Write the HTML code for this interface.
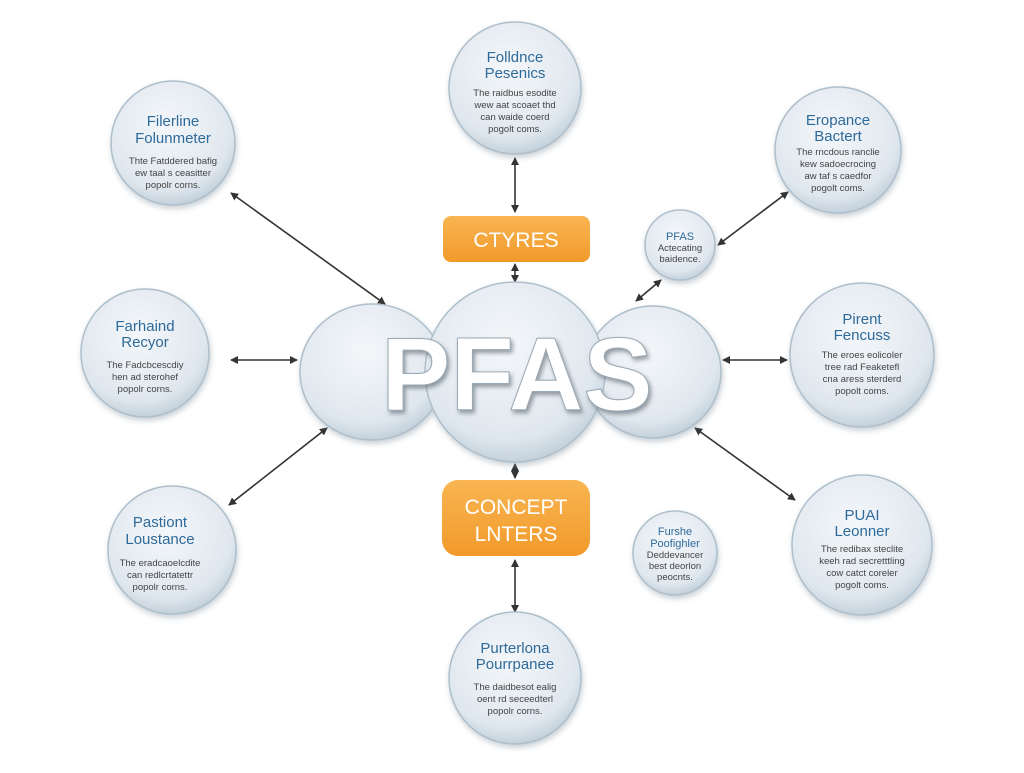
<!DOCTYPE html>
<html><head><meta charset="utf-8"><style>
body{margin:0;background:#fff;width:1024px;height:768px;overflow:hidden}
svg{font-family:"Liberation Sans",sans-serif}
.t{fill:#2e6a9a;text-anchor:middle;font-size:15px}
.s{fill:#444;text-anchor:middle;font-size:9.5px}
</style></head><body>
<svg width="1024" height="768" viewBox="0 0 1024 768">
<defs>
<radialGradient id="g" cx="0.45" cy="0.35" r="0.7">
<stop offset="0" stop-color="#f4f7fa"/><stop offset="0.75" stop-color="#dfe7ee"/><stop offset="1" stop-color="#b9c8d4"/>
</radialGradient>
<linearGradient id="o" x1="0" y1="0" x2="0" y2="1"><stop offset="0" stop-color="#f9b552"/><stop offset="1" stop-color="#f19a2a"/></linearGradient>
<marker id="a" markerWidth="8" markerHeight="8" refX="7" refY="4" orient="auto-start-reverse" markerUnits="userSpaceOnUse"><path d="M0,0L8,4L0,8z" fill="#333"/></marker>
<filter id="sh"><feDropShadow dx="1" dy="3" stdDeviation="3" flood-color="#7a8a99" flood-opacity="0.4"/></filter>
</defs>
<g stroke="#333" stroke-width="1.6" marker-start="url(#a)" marker-end="url(#a)">
<line x1="231" y1="193" x2="385" y2="304"/>
<line x1="231" y1="360" x2="297" y2="360"/>
<line x1="229" y1="505" x2="327" y2="428"/>
<line x1="515" y1="158" x2="515" y2="212"/>
<line x1="515" y1="264" x2="515" y2="282"/>
<line x1="515" y1="464" x2="515" y2="478"/>
<line x1="515" y1="560" x2="515" y2="612"/>
<line x1="636" y1="301" x2="661" y2="280"/>
<line x1="718" y1="245" x2="788" y2="192"/>
<line x1="723" y1="360" x2="787" y2="360"/>
<line x1="695" y1="428" x2="795" y2="500"/>
</g>
<g fill="url(#g)" stroke="#aebfcc" stroke-width="1.5" filter="url(#sh)">
<circle cx="515" cy="88" r="66"/>
<circle cx="173" cy="143" r="62"/>
<circle cx="838" cy="150" r="63"/>
<circle cx="680" cy="245" r="35"/>
<circle cx="145" cy="353" r="64"/>
<circle cx="862" cy="355" r="72"/>
<circle cx="172" cy="550" r="64"/>
<circle cx="862" cy="545" r="70"/>
<circle cx="675" cy="553" r="42"/>
<circle cx="515" cy="678" r="66"/>
<ellipse cx="372" cy="372" rx="72" ry="68"/>
<ellipse cx="653" cy="372" rx="68" ry="66"/>
<circle cx="515" cy="372" r="90"/>
</g>
<text x="517" y="410" text-anchor="middle" font-size="104" font-weight="bold" fill="#fff" stroke="#9aa9b5" stroke-width="1" style="filter:drop-shadow(2px 3px 2px rgba(60,70,80,.5))">PFAS</text>
<rect x="443" y="216" width="147" height="46" rx="8" fill="url(#o)"/>
<text x="516" y="247" text-anchor="middle" font-size="21" fill="#fff">CTYRES</text>
<rect x="442" y="480" width="148" height="76" rx="16" fill="url(#o)"/>
<text x="516" y="514" text-anchor="middle" font-size="21" fill="#fff">CONCEPT</text>
<text x="516" y="541" text-anchor="middle" font-size="21" fill="#fff">LNTERS</text>
<g>
<text class="t" x="515" y="62">Folldnce</text><text class="t" x="515" y="78">Pesenics</text>
<text class="s" x="515" y="96">The raidbus esodite</text><text class="s" x="515" y="108">wew aat scoaet thd</text><text class="s" x="515" y="120">can waide coerd</text><text class="s" x="515" y="132">pogolt coms.</text>
<text class="t" x="173" y="126">Filerline</text><text class="t" x="173" y="143">Folunmeter</text>
<text class="s" x="173" y="164">Thte Fatddered bafig</text><text class="s" x="173" y="176">ew taal s ceasitter</text><text class="s" x="173" y="188">popolr corns.</text>
<text class="t" x="838" y="125">Eropance</text><text class="t" x="838" y="141">Bactert</text>
<text class="s" x="838" y="155">The rncdous ranclie</text><text class="s" x="838" y="167">kew sadoecrocing</text><text class="s" x="838" y="179">aw taf s caedfor</text><text class="s" x="838" y="191">pogolt coms.</text>
<text class="t" x="680" y="240" style="font-size:11px">PFAS</text><text class="s" x="680" y="251">Actecating</text><text class="s" x="680" y="262">baidence.</text>
<text class="t" x="145" y="331">Farhaind</text><text class="t" x="145" y="347">Recyor</text>
<text class="s" x="145" y="368">The Fadcbcescdiy</text><text class="s" x="145" y="380">hen ad sterohef</text><text class="s" x="145" y="392">popolr corns.</text>
<text class="t" x="862" y="324">Pirent</text><text class="t" x="862" y="340">Fencuss</text>
<text class="s" x="862" y="358">The eroes eolicoler</text><text class="s" x="862" y="370">tree rad Feaketefl</text><text class="s" x="862" y="382">cna aress sterderd</text><text class="s" x="862" y="394">popolt coms.</text>
<text class="t" x="160" y="527">Pastiont</text><text class="t" x="160" y="544">Loustance</text>
<text class="s" x="160" y="566">The eradcaoelcdite</text><text class="s" x="160" y="578">can redlcrtatettr</text><text class="s" x="160" y="590">popolr corns.</text>
<text class="t" x="862" y="520">PUAI</text><text class="t" x="862" y="536">Leonner</text>
<text class="s" x="862" y="552">The redibax steclite</text><text class="s" x="862" y="564">keeh rad secretttling</text><text class="s" x="862" y="576">cow catct coreler</text><text class="s" x="862" y="588">pogolt coms.</text>
<text class="t" x="675" y="535" style="font-size:11px">Furshe</text><text class="t" x="675" y="547" style="font-size:11px">Poofighler</text>
<text class="s" x="675" y="558">Deddevancer</text><text class="s" x="675" y="569">best deorlon</text><text class="s" x="675" y="580">peocnts.</text>
<text class="t" x="515" y="653">Purterlona</text><text class="t" x="515" y="669">Pourrpanee</text>
<text class="s" x="515" y="690">The daidbesot ealig</text><text class="s" x="515" y="702">oent rd seceedterl</text><text class="s" x="515" y="714">popolr corns.</text>
</g>
</svg>
</body></html>
